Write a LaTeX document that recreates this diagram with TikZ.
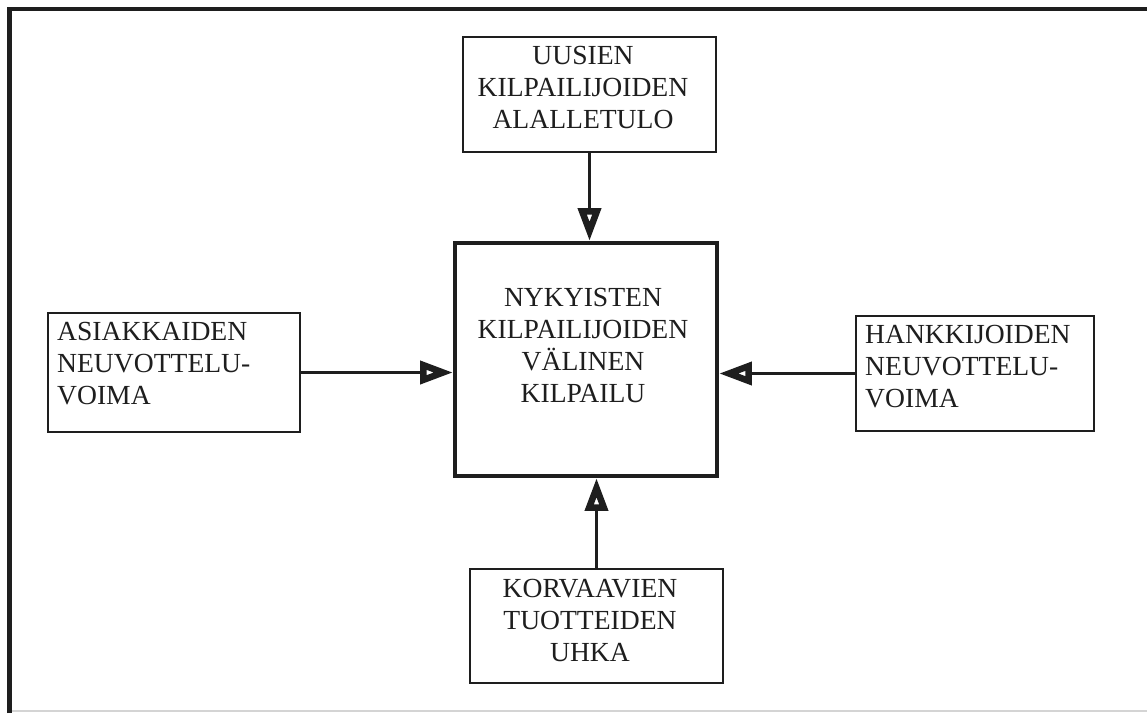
\documentclass[tikz,border=0pt]{standalone}
\usepackage{fontspec}
\setmainfont{Liberation Serif}
\usetikzlibrary{arrows.meta}
\definecolor{ink}{HTML}{1E1E1E}
\definecolor{rule}{HTML}{D4D4D4}
\begin{document}
\begin{tikzpicture}[x=1pt,y=-1pt,
  box/.style={draw=ink, line width=2.8pt, inner sep=0pt, fill=white},
  corebox/.style={box, line width=3.6pt},
  label/.style={text=ink, inner sep=0pt, font=\fontsize{27.6}{32}\selectfont},
  push/.style={draw=ink, line width=3.4pt,
    -{Triangle[open, length=33pt, width=22pt, line width=6.5pt]}}
]
\useasboundingbox (0,0) rectangle (1147,713);
\fill[white] (0,0) rectangle (1147,713);

% outer frame: heavy top and left edges, faint bottom rule
\draw[rule, line width=1.5pt] (9,711) -- (1147,711);
\draw[ink, line width=4.5pt] (9.5,713) -- (9.5,9) -- (1147,9);

% boxes
\node[box, minimum width=253pt, minimum height=115pt] (entry) at (589.5,94.5) {};
\node[corebox, minimum width=262pt, minimum height=233pt] (rivalry) at (586,359.5) {};
\node[box, minimum width=252pt, minimum height=119pt] (buyers) at (174,372.5) {};
\node[box, minimum width=238pt, minimum height=115pt] (suppliers) at (975,373.5) {};
\node[box, minimum width=253pt, minimum height=114pt] (substitutes) at (596.5,626) {};

% texts
\node[label, align=center] (entryT) at (583,87.5) {UUSIEN\\KILPAILIJOIDEN\\ALALLETULO};
\node[label, align=center] (rivalryT) at (583,345) {NYKYISTEN\\KILPAILIJOIDEN\\VÄLINEN\\KILPAILU};
\node[label, align=left, anchor=west] (buyersT) at (57,364) {ASIAKKAIDEN\\NEUVOTTELU-\\VOIMA};
\node[label, align=left, anchor=west] (suppliersT) at (865,367) {HANKKIJOIDEN\\NEUVOTTELU-\\VOIMA};
\node[label, align=center] (substitutesT) at (590,620) {KORVAAVIEN\\TUOTTEIDEN\\UHKA};

% forces acting on the rivalry box
\draw[push] (entry.south) -- (entry.south |- rivalry.north);
\draw[push] (substitutes.north) -- (substitutes.north |- rivalry.south);
\draw[push] (buyers.east) -- (buyers.east -| rivalry.west);
\draw[push] (suppliers.west) -- (suppliers.west -| rivalry.east);
\end{tikzpicture}
\end{document}
